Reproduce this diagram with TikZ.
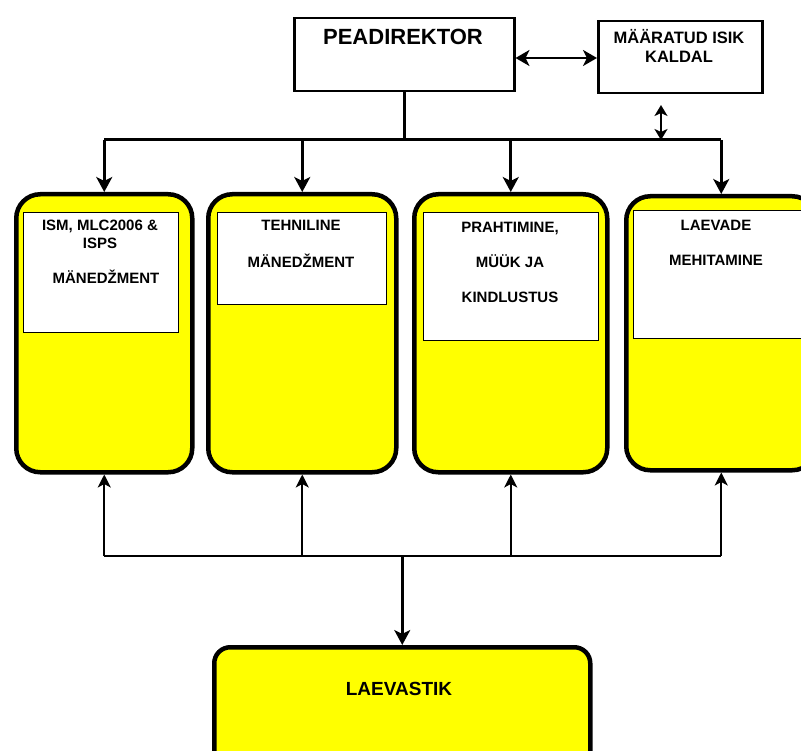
\documentclass[tikz,border=0pt]{standalone}
\usepackage{fontspec}
\setmainfont{Liberation Sans}
\usetikzlibrary{arrows.meta}
\definecolor{boxyellow}{RGB}{255,255,0}
\tikzset{
	dept/.style={draw, line width=4.5pt, fill=boxyellow, rounded corners=24pt, anchor=north west, inner sep=0pt},
	inbox/.style={draw, line width=1.2pt, fill=white, anchor=north west, inner sep=0pt},
	headbox/.style={draw, line width=2.5pt, fill=white, anchor=north west, inner sep=0pt},
	lbl/.style={font=\bfseries\fontsize{15}{18}\selectfont, align=center, inner sep=0pt, anchor=north},
	bus/.style={line width=3pt},
	down/.style={line width=3pt, -{Stealth[length=15pt,width=16pt,inset=4pt]}},
	up/.style={line width=2pt, -{Stealth[length=13pt,width=13pt,inset=3.5pt]}},
	both/.style={line width=2.5pt, {Stealth[length=14pt,width=16pt,inset=4pt]}-{Stealth[length=14pt,width=16pt,inset=4pt]}},
}

\begin{document}
\begin{tikzpicture}[x=1pt, y=-1pt]
		\useasboundingbox (0,0) rectangle (801,751);
		\clip (0,0) rectangle (801,751);
		\node[headbox, minimum width=220pt, minimum height=73pt] (peadir) at (293,17) {};
		\node[headbox, minimum width=164pt, minimum height=72pt] (maar) at (597,20) {};
		\node[font=\bfseries\fontsize{22}{26}\selectfont, anchor=base, inner sep=0pt] (peadirT) at (403,45) {PEADIREKTOR};
		\node[font=\bfseries\fontsize{16.5}{19}\selectfont, align=center, anchor=north, inner sep=0pt] (maarT) at (679,29) {MÄÄRATUD ISIK\\KALDAL};
		\node[dept, minimum width=176pt, minimum height=278pt] (b1) at (14,192) {};
		\node[dept, minimum width=188pt, minimum height=278pt] (b2) at (206,192) {};
		\node[dept, minimum width=193pt, minimum height=278pt] (b3) at (412,192) {};
		\node[dept, minimum width=190pt, minimum height=274pt] (b4) at (624,194) {};
		\node[inbox, minimum width=155pt, minimum height=120pt] (b1in) at (23,212) {};
		\node[inbox, minimum width=169pt, minimum height=92pt] (b2in) at (217,212) {};
		\node[inbox, minimum width=175pt, minimum height=128pt] (b3in) at (423,212) {};
		\node[inbox, minimum width=175pt, minimum height=128pt] (b4in) at (633,210) {};
		\node[lbl] (b1T) at (100,219.5) {ISM, MLC2006 \&\\ISPS\\[17pt]\hspace*{12pt}MÄNEDŽMENT};
		\node[lbl] (b2T) at (301,219.5) {TEHNILINE\\[19pt]MÄNEDŽMENT};
		\node[lbl] (b3T) at (510,221.5) {PRAHTIMINE,\\[17pt]MÜÜK JA\\[17pt]KINDLUSTUS};
		\node[lbl] (b4T) at (716,219.5) {LAEVADE\\[17pt]MEHITAMINE};
		\node[dept, rounded corners=16pt, minimum width=376pt, minimum height=140pt] (fleet) at (212,645) {};
		\node[font=\bfseries\fontsize{19}{22}\selectfont, anchor=base, inner sep=0pt] (fleetT) at (399,695.5) {LAEVASTIK};
		\coordinate (tbus) at (0,140);
		\coordinate (bbus) at (0,556);
		\coordinate (mlink) at (661,105);
		\draw[both] (peadir.east |- 0,58) -- (maar.west |- 0,58);
		\draw[line width=2.5pt, {Stealth[length=11pt,width=13pt,inset=3pt]}-{Stealth[length=11pt,width=13pt,inset=3pt]}] (mlink) -- (mlink |- tbus);
		\draw[bus] (peadir.south) -- (peadir.south |- tbus);
		\draw[bus] (b1.north |- tbus) -- (b4.north |- tbus);
		\foreach \b in {b1,b2,b3,b4}
			\draw[down] (\b.north |- tbus) -- (\b.north);
		\draw[line width=2pt] (b1.south |- bbus) -- (b4.south |- bbus);
		\foreach \b in {b1,b2,b3,b4}
			\draw[up] (\b.south |- bbus) -- (\b.south);
		\draw[down] (fleet.north |- bbus) -- (fleet.north);
	\end{tikzpicture}
\end{document}
